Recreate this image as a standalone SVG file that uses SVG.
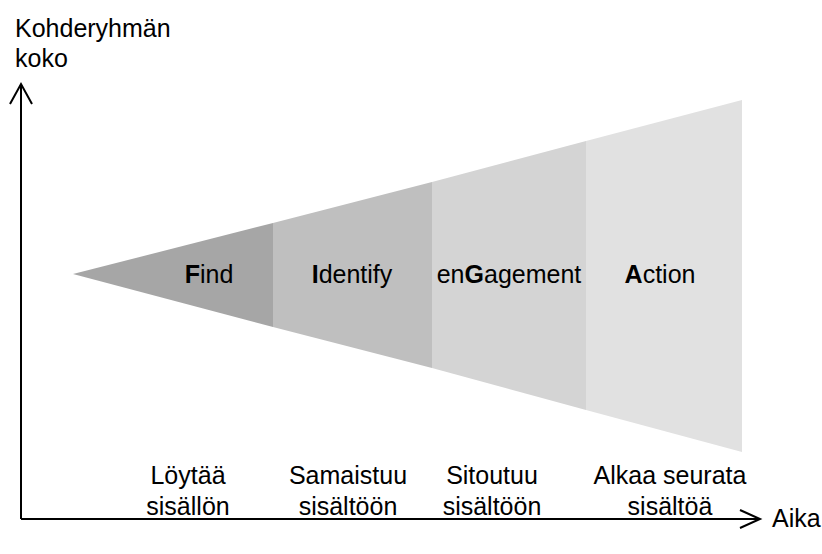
<svg xmlns="http://www.w3.org/2000/svg" width="822" height="554" viewBox="0 0 822 554">
<style>
text{font-family:"Liberation Sans",Arial,sans-serif;font-size:25px;fill:#000}
.b{font-weight:bold}
.ax{fill:none;stroke:#000;stroke-width:2}
</style>
<rect width="822" height="554" fill="#fff"/>
<g id="find"><polygon points="73,274 273,223 273,327" fill="#a6a6a6"/><text x="209" y="283" text-anchor="middle"><tspan class="b">F</tspan>ind</text></g>
<g id="identify"><polygon points="273,223 432,182 432,368 273,327" fill="#bfbfbf"/><text x="352" y="283" text-anchor="middle"><tspan class="b">I</tspan>dentify</text></g>
<g id="engagement"><polygon points="432,182 586,141 586,410 432,368" fill="#d4d4d4"/><text x="509" y="283" text-anchor="middle">en<tspan class="b">G</tspan>agement</text></g>
<g id="action"><polygon points="586,141 742,100 742,452 586,410" fill="#e1e1e1"/><text x="660" y="283" text-anchor="middle"><tspan class="b">A</tspan>ction</text></g>
<g id="labels" text-anchor="middle">
<text x="188" y="484">Löytää</text><text x="188" y="515">sisällön</text>
<text x="348" y="484">Samaistuu</text><text x="348" y="515">sisältöön</text>
<text x="492" y="484">Sitoutuu</text><text x="492" y="515">sisältöön</text>
<text x="670" y="484">Alkaa seurata</text><text x="670" y="515">sisältöä</text>
</g>
<g id="axes">
<path class="ax" d="M21,519 V84 M10,104 L21,84 L32,104"/>
<path class="ax" d="M21,519 H760 M740,510 L760,519 L740,528"/>
<text x="15" y="37">Kohderyhmän</text><text x="15" y="67">koko</text>
<text x="772" y="527">Aika</text>
</g>
</svg>
